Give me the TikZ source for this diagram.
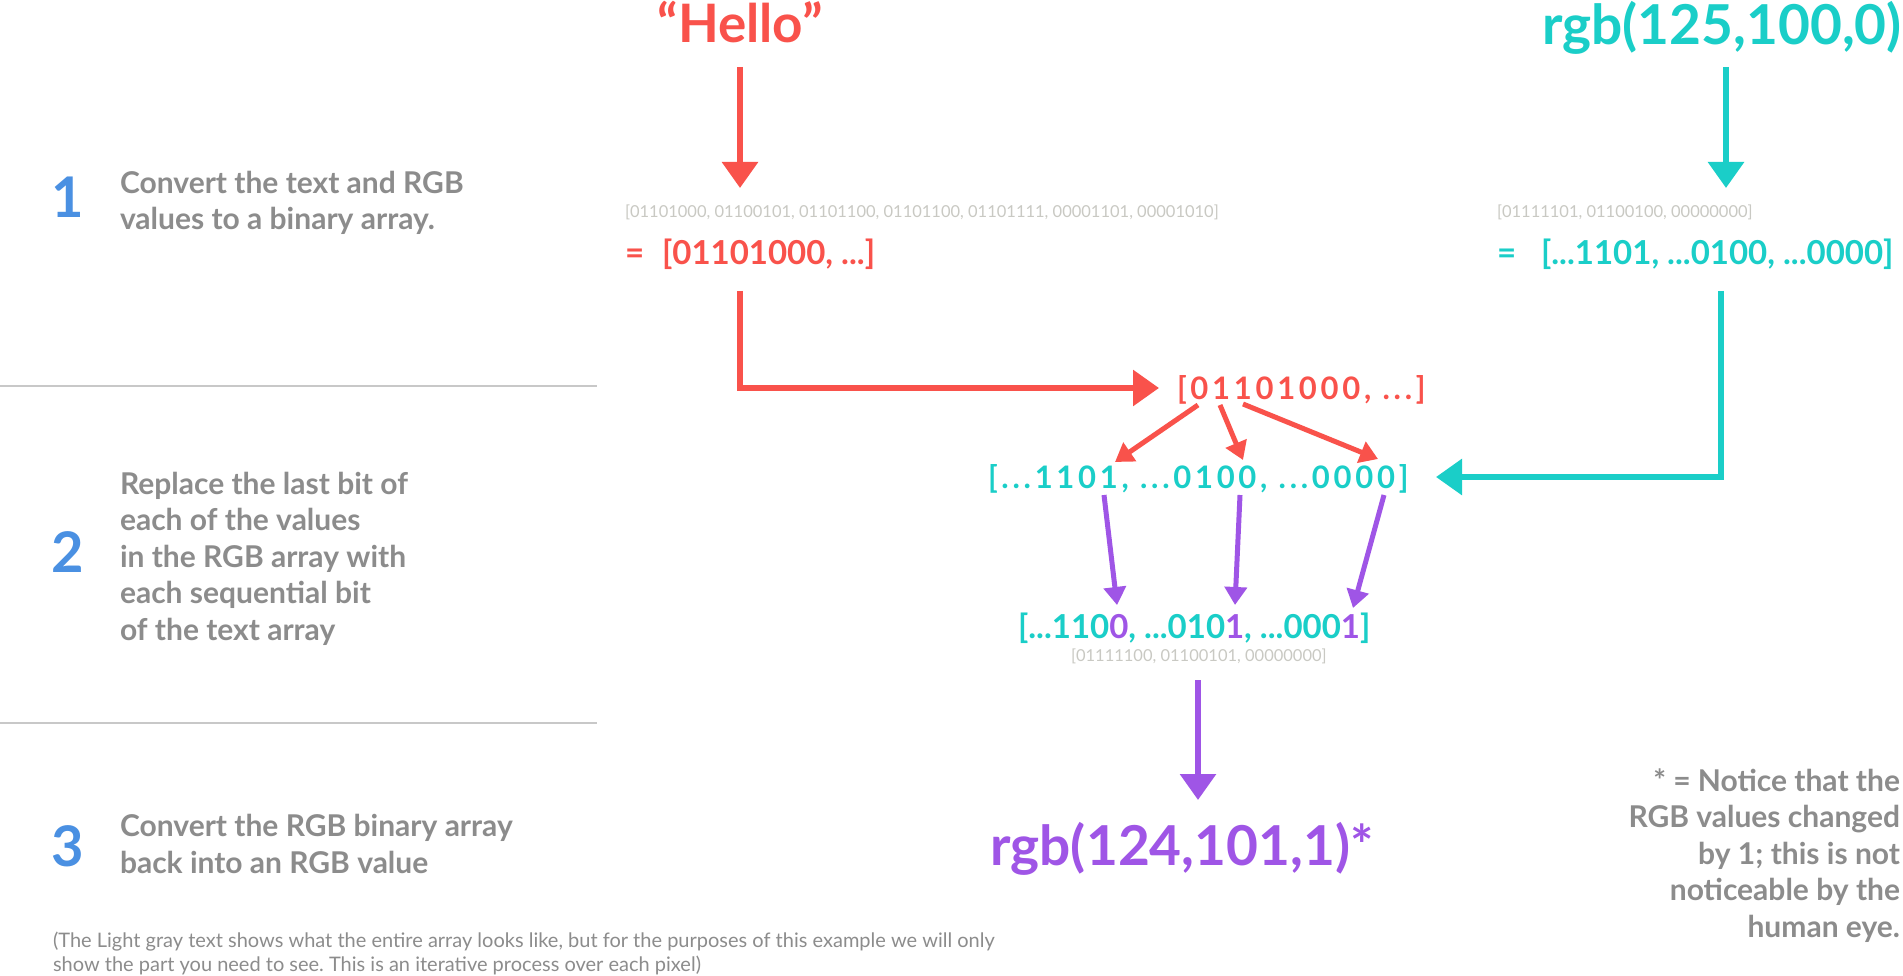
\documentclass[tikz,border=0pt]{standalone}
\usepackage{fontspec}
\setmainfont{Lato}
\newfontfamily\trackfont[LetterSpace=12]{Lato}
\usetikzlibrary{arrows.meta}
\frenchspacing
\definecolor{cred}{HTML}{F9524B}
\definecolor{cteal}{HTML}{1ACEC8}
\definecolor{cpurple}{HTML}{9F55E6}
\definecolor{cblue}{HTML}{4A90E2}
\definecolor{cgray}{HTML}{8C8C8C}
\definecolor{clight}{HTML}{C9C9C3}
\definecolor{cline}{HTML}{C8C8C8}
\begin{document}
\begin{tikzpicture}[x=1pt,y=-1pt,
  every node/.style={inner sep=0pt, outer sep=0pt},
  title/.style={font=\fontsize{53}{60}\selectfont\bfseries, anchor=base},
  bigtitle/.style={font=\fontsize{55}{60}\selectfont\bfseries, anchor=base},
  arr/.style={font=\fontsize{33}{38}\selectfont\bfseries, anchor=base west},
  midarr/.style={font=\fontsize{31}{38}\selectfont\trackfont\bfseries, anchor=base west},
  faint/.style={font=\fontsize{16.5}{20}\selectfont, text=clight, anchor=base west},
  stepnum/.style={font=\fontsize{56}{60}\selectfont\bfseries, text=cblue, anchor=base},
  steptext/.style={font=\fontsize{30}{36.5}\selectfont\bfseries, text=cgray, align=left, anchor=base west},
  bigarr/.style={line width=6pt, -{Triangle[width=35pt,length=26pt]}},
  smallarr/.style={line width=5pt, -{Triangle[width=22pt,length=18pt]}},
  divider/.style={draw=cline, line width=1.5pt}
]
\useasboundingbox[fill=white] (0,0) rectangle (1903,976);

% left column
\node[stepnum] (n1) at (68,218) {1};
\node[steptext] (t1) at (120,230) {Convert the text and RGB\\values to a binary array.};
\coordinate (d1a) at (0,386); \coordinate (d1b) at (597,386);
\draw[divider] (d1a) -- (d1b);
\node[stepnum] (n2) at (68,572) {2};
\node[steptext] (t2) at (120,640) {Replace the last bit of\\each of the values\\in the RGB array with\\each sequential bit\\of the text array};
\coordinate (d2a) at (0,723); \coordinate (d2b) at (597,723);
\draw[divider] (d2a) -- (d2b);
\node[stepnum] (n3) at (68,866) {3};
\node[steptext] (t3) at (120,873) {Convert the RGB binary array\\back into an RGB value};
\node[font=\fontsize{20}{23.5}\selectfont, text=cgray, align=left, anchor=base west] (foot) at (53,971)
  {(The Light gray text shows what the entire array looks like, but for the purposes of this example we will only\\show the part you need to see. This is an iterative process over each pixel)};

% right note
\node[font=\fontsize{30}{36.5}\selectfont\bfseries, text=cgray, align=right, anchor=base east] (note) at (1900,937)
  {* = Notice that the\\RGB values changed\\by 1; this is not\\noticeable by the\\human eye.};

% titles
\node[title, text=cred] (hello) at (740,43) {“Hello”};
\node[bigtitle, text=cteal] (rgbin) at (1722,45) {rgb(125,100,0)};

% step 1 arrays
\node[faint] (grayL) at (625,218) {[01101000, 01100101, 01101100, 01101100, 01101111, 00001101, 00001010]};
\node[arr, text=cred] (eqL) at (625,265) {=};
\node[arr, text=cred] (binL) at (662,265) {[01101000, ...]};
\node[faint] (grayR) at (1497,218) {[01111101, 01100100, 00000000]};
\node[arr, text=cteal] (eqR) at (1497,265) {=};
\node[arr, text=cteal] (binR) at (1541,265) {[...1101, ...0100, ...0000]};

% step 2 arrays
\node[midarr, text=cred] (midL) at (1177,399) {[01101000, ...]};
\node[midarr, text=cteal] (midR) at (988,488) {[...1101, ...0100, ...0000]};
\node[arr, text=cteal] (res) at (1018,638) {[...110\textcolor{cpurple}{0}, ...010\textcolor{cpurple}{1}, ...000\textcolor{cpurple}{1}]};
\node[faint] (grayRes) at (1071,661) {[01111100, 01100101, 00000000]};

% step 3
\node[bigtitle, text=cpurple] (rgbout) at (1182,865) {rgb(124,101,1)*};

% connectors
\coordinate (a1s) at (740,67); \coordinate (a1e) at (740,188);
\draw[bigarr, cred] (a1s) -- (a1e);
\coordinate (a2s) at (1726,67); \coordinate (a2e) at (1726,188);
\draw[bigarr, cteal] (a2s) -- (a2e);
\coordinate (e1s) at (740,291); \coordinate (e1e) at (1159,388);
\draw[bigarr, cred] (e1s) |- (e1e);
\coordinate (e2s) at (1721,291); \coordinate (e2e) at (1436,477);
\draw[bigarr, cteal] (e2s) |- (e2e);

\coordinate (r1s) at (1198,405); \coordinate (r1e) at (1115,462);
\coordinate (r2s) at (1220,405); \coordinate (r2e) at (1243,460);
\coordinate (r3s) at (1243,404); \coordinate (r3e) at (1378,459);
\draw[smallarr, cred] (r1s) -- (r1e);
\draw[smallarr, cred] (r2s) -- (r2e);
\draw[smallarr, cred] (r3s) -- (r3e);

\coordinate (p1s) at (1104,495); \coordinate (p1e) at (1117,605);
\coordinate (p2s) at (1240,495); \coordinate (p2e) at (1235,605);
\coordinate (p3s) at (1384,495); \coordinate (p3e) at (1353,608);
\draw[smallarr, cpurple] (p1s) -- (p1e);
\draw[smallarr, cpurple] (p2s) -- (p2e);
\draw[smallarr, cpurple] (p3s) -- (p3e);

\coordinate (a3s) at (1198,680); \coordinate (a3e) at (1198,800);
\draw[bigarr, cpurple] (a3s) -- (a3e);
\end{tikzpicture}
\end{document}
